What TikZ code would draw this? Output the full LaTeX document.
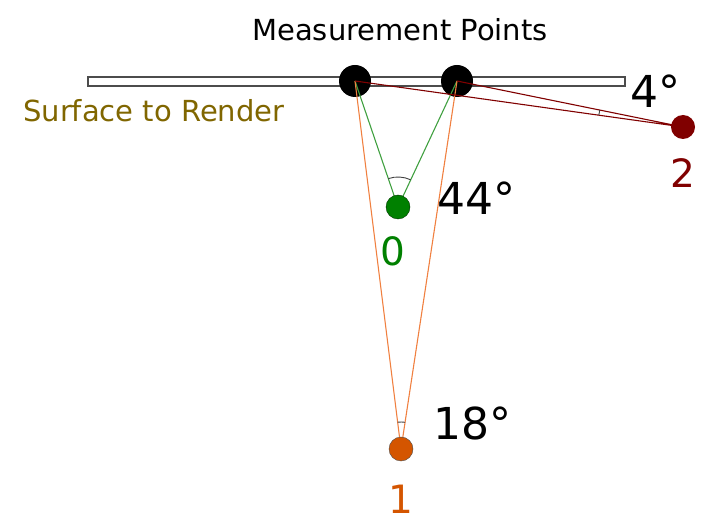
\documentclass[tikz,border=0pt]{standalone}
\usepackage{fontspec}
\setmainfont{DejaVu Sans}
\usetikzlibrary{angles}
\definecolor{viewgreen}{HTML}{008000}
\definecolor{vieworange}{HTML}{D45500}
\definecolor{viewred}{HTML}{800000}
\definecolor{rayorange}{HTML}{F08040}
\definecolor{raygreen}{HTML}{40A040}
\definecolor{surfolive}{HTML}{806600}
\newcommand{\SM}{\fontsize{29}{34}\selectfont}
\newcommand{\LG}{\fontsize{44}{50}\selectfont}
\newcommand{\MD}{\fontsize{39}{45}\selectfont}

\begin{document}
\begin{tikzpicture}[x=1pt, y=-1pt]
  \useasboundingbox (0,0) rectangle (726,529);
  \tikzset{lbl/.style={inner sep=0pt},
    ray/.style={line width=1.1pt},
    ang/.style={draw=black!75, line width=0.9pt}}

  %% measurement points and viewers
  \coordinate (m1) at (355,81);
  \coordinate (m2) at (457,81);
  \coordinate (p0) at (398,207);
  \coordinate (p1) at (401,449);
  \coordinate (p2) at (683,127);

  \node[lbl] (title) at (400,30) {\SM Measurement Points};
  \draw[black!70, line width=1.3pt, fill=white] (88,77) rectangle (625,86);
  \node[lbl, anchor=west, text=surfolive] (surf) at (23,111) {\SM Surface to Render};

  \fill (m1) circle (16pt);
  \fill (m2) circle (16pt);

  \draw[ray, raygreen] (m1) -- (p0) -- (m2); % viewer 0
  \draw[ray, rayorange] (m1) -- (p1) -- (m2); % viewer 1
  \draw[ray, viewred] (m1) -- (p2) -- (m2); % viewer 2

  \pic[ang, angle radius=30pt] {angle=m2--p0--m1};
  \pic[ang, angle radius=27pt] {angle=m2--p1--m1};
  \pic[ang, angle radius=85pt] {angle=m2--p2--m1};

  \draw[fill=viewgreen, draw=black!60!viewgreen] (p0) circle (12pt);
  \draw[fill=vieworange, draw=black!70] (p1) circle (12pt);
  \fill[viewred] (p2) circle (12pt);

  \node[lbl, text=viewgreen] (n0) at (393,251) {\MD 0};
  \node[lbl, text=vieworange] (n1) at (401,499) {\MD 1};
  \node[lbl, text=viewred] (n2) at (683,173) {\MD 2};

  \node[lbl, anchor=west] (a0) at (437,198) {\LG 44°};
  \node[lbl, anchor=west] (a1) at (433,423) {\LG 18°};
  \node[lbl, anchor=west] (a2) at (630,91) {\LG 4°};
\end{tikzpicture}
\end{document}
